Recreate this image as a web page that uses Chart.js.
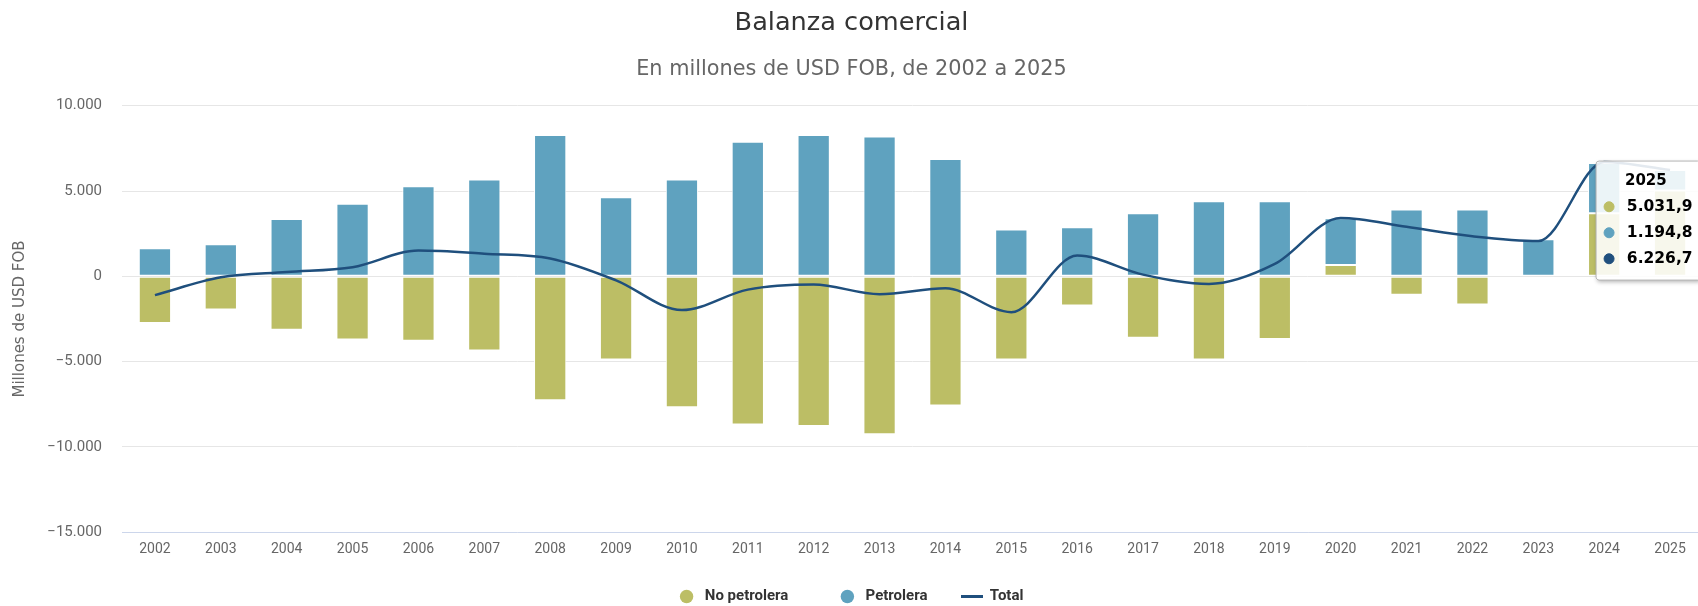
<!DOCTYPE html>
<html>
<head>
<meta charset="utf-8">
<script src="https://cdn.jsdelivr.net/npm/chart.js@4.4.1/dist/chart.umd.min.js"></script>
<style>
  html, body { margin: 0; padding: 0; overflow: hidden; background: #ffffff; width: 1698px; height: 606px; }
  #wrap { width: 1714px; height: 614px; }
</style>
</head>
<body>
<div id="wrap"><canvas id="c" width="1714" height="614"></canvas></div>
<script>
// ---- data (millones de USD FOB) ----
const years = ['2002','2003','2004','2005','2006','2007','2008','2009','2010','2011','2012','2013',
               '2014','2015','2016','2017','2018','2019','2020','2021','2022','2023','2024','2025'];
const noPetrolera = [-2740, -1937, -3131, -3699, -3777, -4344, -7260, -4873, -7671, -8689, -8767, -9257,
                     -7574, -4873, -1703, -3601, -4873, -3679, 665, -1076, -1644, -117, 3699, 5031.9];
const petrolera = [1644, 1879, 3366, 4247, 5284, 5675, 8278, 4638, 5675, 7887, 8278, 8200,
                   6869, 2740, 2877, 3699, 4403, 4403, 2740, 3914, 3914, 2172, 2935, 1194.8];
const total = [-1100, -60, 250, 530, 1510, 1330, 1050, -235, -1980, -780, -480, -1050,
               -705, -2100, 1220, 100, -450, 724, 3420, 2900, 2350, 2070, 6700, 6226.7];
const yTickValues = [-15000, -10000, -5000, 0, 5000, 10000];
const seriesNames = ['No petrolera', 'Petrolera', 'Total'];

// ---- styles ----
const GREEN = '#bcbe65';
const BLUE = '#5fa2bf';
const NAVY = '#1f4f7d';
const seriesColors = [GREEN, BLUE, NAVY];

function groupThousands(s) { return s.replace(/\B(?=(\d{3})+(?!\d))/g, '.'); }
function fmtInt(v) { return (v < 0 ? '\u2212' : '') + groupThousands(Math.abs(v).toFixed(0)); }
function fmt1(v) {
  const parts = Math.abs(v).toFixed(1).split('.');
  return (v < 0 ? '\u2212' : '') + groupThousands(parts[0]) + ',' + parts[1];
}

// legend marker for the line series
const lineMarker = document.createElement('canvas');
lineMarker.width = 22; lineMarker.height = 3;
(function () { const g = lineMarker.getContext('2d'); g.fillStyle = NAVY; g.fillRect(0, 0, 22, 3); })();

Chart.Tooltip.positioners.anchored = function (items) {
  if (!items.length) return false;
  const it = items.find(i => i.datasetIndex === 2) || items[0];
  return { x: it.element.x - 71, y: it.element.y - 9 };
};

const tooltipShadow = {
  id: 'tooltipShadow',
  beforeTooltipDraw(chart, args) {
    const t = args.tooltip;
    if (!t || !t.opacity) return;
    const ctx = chart.ctx;
    ctx.save();
    ctx.beginPath();
    ctx.rect(0, 0, chart.width, chart.height);
    ctx.rect(t.x, t.y, t.width, t.height);
    ctx.clip('evenodd');
    ctx.shadowColor = 'rgba(0,0,0,0.3)';
    ctx.shadowBlur = 4;
    ctx.shadowOffsetX = 1;
    ctx.shadowOffsetY = 2;
    ctx.fillStyle = '#ffffff';
    ctx.beginPath();
    ctx.roundRect(t.x, t.y, t.width, t.height, 3);
    ctx.fill();
    ctx.restore();
  }
};

Chart.defaults.font.family = 'Roboto';
Chart.defaults.color = '#666666';

const legendLead = ' ';
const legendTrail = ['       ', '   ', ''];

const chart = new Chart(document.getElementById('c'), {
  type: 'bar',
  data: {
    labels: years,
    datasets: [
      { label: seriesNames[0], data: noPetrolera, backgroundColor: GREEN, borderColor: '#ffffff',
        borderWidth: 1, borderSkipped: false, stack: 'bars', order: 1,
        categoryPercentage: 1, barPercentage: 0.49 },
      { label: seriesNames[1], data: petrolera, backgroundColor: BLUE, borderColor: '#ffffff',
        borderWidth: 1, borderSkipped: false, stack: 'bars', order: 1,
        categoryPercentage: 1, barPercentage: 0.49 },
      { type: 'line', label: seriesNames[2], data: total, borderColor: NAVY, backgroundColor: NAVY,
        borderWidth: 2.5, cubicInterpolationMode: 'monotone', pointRadius: 0, pointHoverRadius: 0,
        fill: false, stack: 'line', order: 0 }
    ]
  },
  options: {
    responsive: false,
    animation: false,
    events: [],
    layout: { padding: { left: 0, right: 11, top: 0, bottom: 0 } },
    scales: {
      x: {
        stacked: true,
        offset: true,
        grid: { display: false, drawTicks: false },
        border: { display: true, color: '#ccd6eb', width: 1 },
        ticks: { color: '#666666', font: { family: 'Roboto', size: 14 }, padding: 9,
                 autoSkip: false, maxRotation: 0 },
        afterFit(scale) { scale.height = 30.7; }
      },
      y: {
        stacked: true,
        min: -15000, max: 10000,
        afterBuildTicks(scale) { scale.ticks = yTickValues.map(v => ({ value: v })); },
        grid: { color: '#e6e6e6', lineWidth: 1, drawTicks: false },
        border: { display: false },
        ticks: { color: '#666666', font: { family: 'Roboto', size: 15 }, padding: 20,
                 callback: (v) => fmtInt(v) },
        title: { display: true, text: 'Millones de USD FOB', color: '#666666',
                 font: { family: 'DejaVu Sans', size: 15 }, padding: { top: 11, bottom: 0 } },
        afterFit(scale) { scale.width = 122; }
      }
    },
    plugins: {
      title: { display: true, text: 'Balanza comercial', color: '#333333',
               font: { family: 'DejaVu Sans', size: 25.6, weight: 'normal' },
               padding: { top: 8, bottom: 0 } },
      subtitle: { display: true, text: 'En millones de USD FOB, de 2002 a 2025', color: '#666666',
                  font: { family: 'DejaVu Sans', size: 20.8, weight: 'normal' },
                  padding: { top: 18, bottom: 24 } },
      legend: {
        position: 'bottom',
        labels: {
          usePointStyle: true, boxWidth: 14, boxHeight: 9.5, padding: 26,
          color: '#333333', font: { family: 'Roboto', size: 15, weight: 'bold' },
          sort: (a, b) => a.datasetIndex - b.datasetIndex,
          generateLabels(ch) {
            const items = Chart.defaults.plugins.legend.labels.generateLabels(ch);
            items.forEach(it => {
              it.lineWidth = 0;
              it.text = legendLead + it.text + legendTrail[it.datasetIndex];
              if (it.datasetIndex === 2) {
                it.pointStyle = lineMarker;
              } else {
                it.pointStyle = 'circle';
                it.fillStyle = seriesColors[it.datasetIndex];
              }
            });
            return items;
          }
        }
      },
      tooltip: {
        enabled: true,
        position: 'anchored',
        xAlign: 'left', yAlign: 'top',
        caretSize: 0, caretPadding: 0,
        backgroundColor: 'rgba(255,255,255,0.88)',
        borderColor: '#b5b5b5', borderWidth: 1, cornerRadius: 3,
        titleColor: '#000000', bodyColor: '#000000',
        titleFont: { family: 'DejaVu Sans', weight: 'bold', size: 15 },
        bodyFont: { family: 'DejaVu Sans', weight: 'bold', size: 15.5 },
        padding: { top: 11, bottom: 12, left: 8, right: 8 },
        titleMarginBottom: 7.4, bodySpacing: 7.4,
        boxWidth: 10, boxHeight: 10, usePointStyle: true, displayColors: true,
        multiKeyBackground: 'rgba(255,255,255,0)',
        itemSort: (a, b) => a.datasetIndex - b.datasetIndex,
        callbacks: {
          title: (items) => '    ' + years[items[0].dataIndex],
          label: (ctx) => '  ' + fmt1(ctx.raw),
          labelColor: (ctx) => ({ borderColor: seriesColors[ctx.datasetIndex], backgroundColor: seriesColors[ctx.datasetIndex] }),
          labelPointStyle: () => ({ pointStyle: 'circle', rotation: 0 })
        }
      }
    }
  },
  plugins: [tooltipShadow]
});

const lastIdx = years.length - 1;
chart.tooltip.setActiveElements([
  { datasetIndex: 0, index: lastIdx },
  { datasetIndex: 1, index: lastIdx },
  { datasetIndex: 2, index: lastIdx }
], { x: 0, y: 0 });
chart.update();
</script>
</body>
</html>
